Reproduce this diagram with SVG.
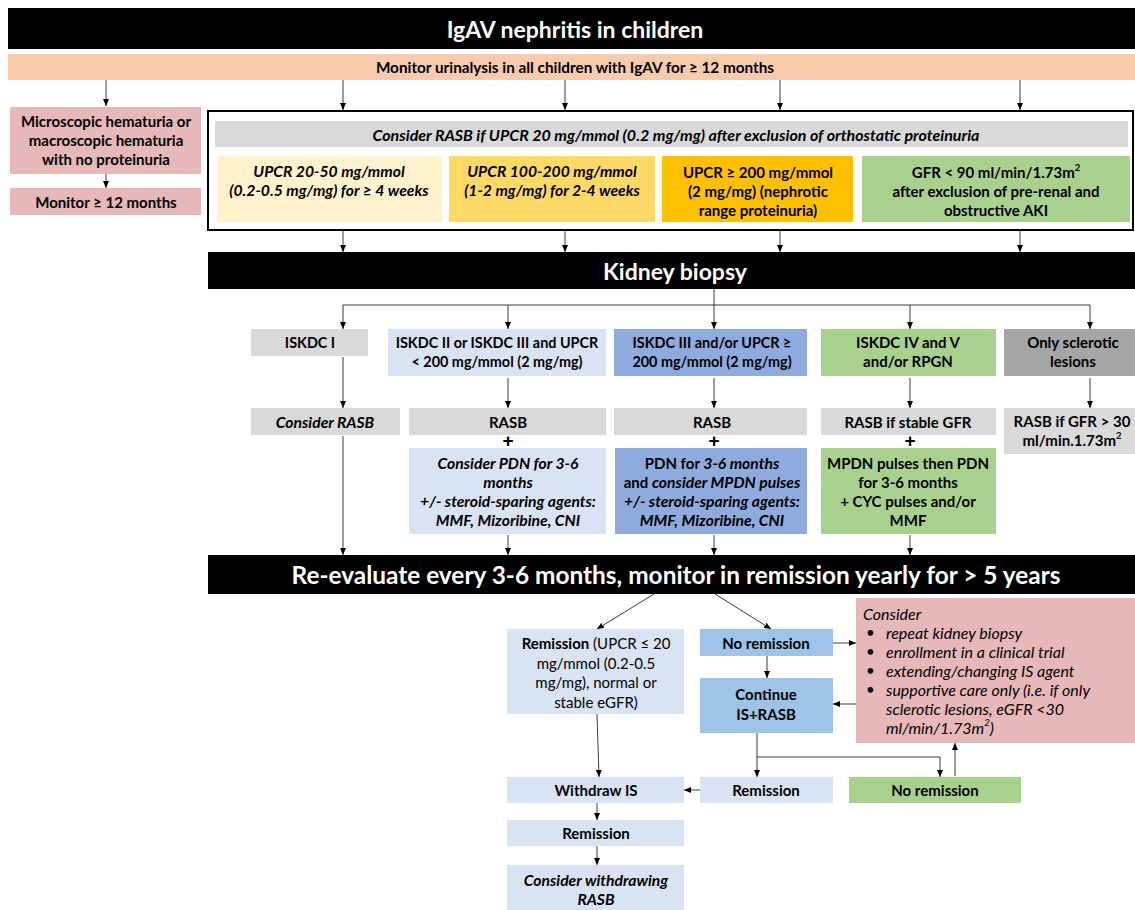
<svg xmlns="http://www.w3.org/2000/svg" width="1135" height="910" viewBox="0 0 1135 910">
<defs>
<marker id="ah" markerWidth="7" markerHeight="6" refX="7" refY="3" orient="auto" markerUnits="userSpaceOnUse">
<path d="M0,0 L7,3 L0,6 z" fill="#000"/>
</marker>
<style>
text{font-family:Lato,"Liberation Sans",Arial,sans-serif;font-size:15px;fill:#000;text-anchor:middle;dominant-baseline:central}
.b{font-weight:bold}
.i{font-style:italic;font-size:16px}
.bi{font-weight:bold;font-style:italic;font-size:15.7px}
.s{font-size:14.4px}
.plus{font-family:"Liberation Sans",Arial,sans-serif;font-weight:bold;font-size:19px}
.wt{fill:#fff;font-weight:bold}
.st{text-anchor:start}
.sup{font-size:9.5px}
.c{stroke:#3a3a3a;stroke-width:1;fill:none;marker-end:url(#ah)}
.l{stroke:#3a3a3a;stroke-width:1;fill:none}
</style>
</defs>
<rect width="1135" height="910" fill="#fff"/>

<g id="title">
<rect x="8" y="8" width="1127" height="41" fill="#000"/>
<text x="575" y="29" class="wt" style="font-size:23px">IgAV nephritis in children</text>
</g>
<g id="monitor-all">
<rect x="8" y="54" width="1127" height="26" fill="#F8CBAD"/>
<text x="575" y="67" class="b" style="font-size:15.3px">Monitor urinalysis in all children with IgAV for ≥ 12 months</text>
</g>
<g id="hematuria">
<rect x="10" y="107" width="191" height="67" fill="#E6B8B7"/>
<text x="106" y="121" class="b">Microscopic hematuria or</text>
<text x="106" y="140" class="b">macroscopic hematuria</text>
<text x="106" y="159" class="b">with no proteinuria</text>
</g>
<g id="monitor12">
<rect x="10" y="188" width="191" height="27" fill="#E6B8B7"/>
<text x="106" y="201.5" class="b">Monitor ≥ 12 months</text>
</g>
<g id="proteinuria-frame">
<rect x="208" y="111" width="925" height="119" fill="none" stroke="#000" stroke-width="2"/>
</g>
<g id="consider-rasb-upcr">
<rect x="215" y="121" width="913" height="26" fill="#D9D9D9"/>
<text x="676" y="134" class="bi" style="font-size:16px">Consider RASB if UPCR 20 mg/mmol (0.2 mg/mg) after exclusion of orthostatic proteinuria</text>
</g>
<g id="upcr20">
<rect x="217" y="156" width="225" height="66" fill="#FFF2CC"/>
<text x="329" y="171" class="bi">UPCR 20-50 mg/mmol</text>
<text x="329" y="190" class="bi">(0.2-0.5 mg/mg) for ≥ 4 weeks</text>
</g>
<g id="upcr100">
<rect x="449" y="156" width="206" height="66" fill="#FFD966"/>
<text x="552" y="171" class="bi">UPCR 100-200 mg/mmol</text>
<text x="552" y="190" class="bi">(1-2 mg/mg) for 2-4 weeks</text>
</g>
<g id="upcr200">
<rect x="662" y="156" width="191" height="66" fill="#FFC000"/>
<text x="758" y="172" class="b">UPCR ≥ 200 mg/mmol</text>
<text x="758" y="191" class="b">(2 mg/mg) (nephrotic</text>
<text x="758" y="210" class="b">range proteinuria)</text>
</g>
<g id="gfr90">
<rect x="862" y="156" width="268" height="66" fill="#A9D18E"/>
<text x="996" y="172" class="b">GFR &lt; 90 ml/min/1.73m<tspan dy="-5" class="sup">2</tspan></text>
<text x="996" y="191" class="b">after exclusion of pre-renal and</text>
<text x="996" y="210" class="b">obstructive AKI</text>
</g>
<g id="biopsy">
<rect x="208" y="252" width="927" height="37" fill="#000"/>
<text x="675" y="270.5" class="wt" style="font-size:23px">Kidney biopsy</text>
</g>
<g id="iskdc1">
<rect x="251" y="329" width="117" height="27" fill="#D9D9D9"/>
<text x="310" y="342.5" class="b s">ISKDC I</text>
</g>
<g id="iskdc2">
<rect x="388" y="329" width="218" height="47" fill="#DAE3F3"/>
<text x="497" y="342" class="b s">ISKDC II or ISKDC III and UPCR</text>
<text x="497" y="361" class="b s">&lt; 200 mg/mmol (2 mg/mg)</text>
</g>
<g id="iskdc3">
<rect x="614" y="329" width="193" height="47" fill="#8FAADC"/>
<text x="712" y="342" class="b s">ISKDC III and/or UPCR ≥</text>
<text x="712" y="361" class="b s">200 mg/mmol (2 mg/mg)</text>
</g>
<g id="iskdc4">
<rect x="821" y="329" width="175" height="47" fill="#A9D18E"/>
<text x="908" y="342" class="b">ISKDC IV and V</text>
<text x="908" y="361" class="b">and/or RPGN</text>
</g>
<g id="sclerotic">
<rect x="1004" y="329" width="131" height="47" fill="#A6A6A6"/>
<text x="1073" y="342" class="b">Only sclerotic</text>
<text x="1073" y="361" class="b">lesions</text>
</g>
<g id="consider-rasb">
<rect x="251" y="408" width="149" height="27" fill="#D9D9D9"/>
<text x="325" y="421.5" class="bi">Consider RASB</text>
</g>
<g id="rasb2">
<rect x="409" y="408" width="197" height="27" fill="#D9D9D9"/>
<text x="508" y="421.5" class="b">RASB</text>
<text x="508" y="440.5" class="plus">+</text>
<rect x="409" y="448" width="197" height="86" fill="#DAE3F3"/>
<text x="508" y="463" class="bi">Consider PDN for 3-6</text>
<text x="508" y="482" class="bi">months</text>
<text x="508" y="501" class="bi">+/- steroid-sparing agents:</text>
<text x="508" y="520" class="bi">MMF, Mizoribine, CNI</text>
</g>
<g id="rasb3">
<rect x="614" y="408" width="193" height="27" fill="#D9D9D9"/>
<text x="712" y="421.5" class="b">RASB</text>
<text x="714" y="440.5" class="plus">+</text>
<rect x="615" y="448" width="192" height="86" fill="#8FAADC"/>
<text x="712" y="463" class="b">PDN for <tspan class="bi">3-6 months</tspan></text>
<text x="712" y="482" class="b">and <tspan class="bi">consider MPDN pulses</tspan></text>
<text x="712" y="501" class="bi">+/- steroid-sparing agents:</text>
<text x="712" y="520" class="bi">MMF, Mizoribine, CNI</text>
</g>
<g id="rasb4">
<rect x="821" y="408" width="175" height="27" fill="#D9D9D9"/>
<text x="908" y="421.5" class="b">RASB if stable GFR</text>
<text x="910" y="440.5" class="plus">+</text>
<rect x="821" y="448" width="175" height="86" fill="#A9D18E"/>
<text x="908" y="463" class="b">MPDN pulses then PDN</text>
<text x="908" y="482" class="b">for 3-6 months</text>
<text x="908" y="501" class="b">+ CYC pulses and/or</text>
<text x="908" y="520" class="b">MMF</text>
</g>
<g id="rasb5">
<rect x="1004" y="408" width="131" height="46" fill="#D9D9D9"/>
<text x="1072" y="421" class="b">RASB if GFR &gt; 30</text>
<text x="1072" y="440" class="b">ml/min.1.73m<tspan dy="-5" class="sup">2</tspan></text>
</g>
<g id="reevaluate">
<rect x="208" y="555" width="927" height="39" fill="#000"/>
<text x="676" y="574" class="wt" style="font-size:24.4px">Re-evaluate every 3-6 months, monitor in remission yearly for &gt; 5 years</text>
</g>
<g id="remission1">
<rect x="507" y="629" width="177" height="85" fill="#DAE3F3"/>
<text x="596" y="643"><tspan class="b">Remission</tspan> (UPCR ≤ 20</text>
<text x="596" y="663">mg/mmol (0.2-0.5</text>
<text x="596" y="682">mg/mg), normal or</text>
<text x="596" y="702">stable eGFR)</text>
</g>
<g id="noremission1">
<rect x="700" y="629" width="133" height="27" fill="#9DC3E6"/>
<text x="766" y="642.5" class="b">No remission</text>
</g>
<g id="consider-box">
<rect x="856" y="598" width="279" height="145" fill="#E6B8B7"/>
<text x="863" y="613" class="i st">Consider</text>
<text x="866" y="632" class="st">•</text>
<text x="886" y="632" class="i st">repeat kidney biopsy</text>
<text x="866" y="651" class="st">•</text>
<text x="886" y="651" class="i st">enrollment in a clinical trial</text>
<text x="866" y="670" class="st">•</text>
<text x="886" y="670" class="i st">extending/changing IS agent</text>
<text x="866" y="689" class="st">•</text>
<text x="886" y="689" class="i st">supportive care only (i.e. if only</text>
<text x="886" y="708" class="i st">sclerotic lesions, eGFR &lt;30</text>
<text x="886" y="727" class="i st">ml/min/1.73m<tspan dy="-5" class="sup">2</tspan><tspan dy="5">)</tspan></text>
</g>
<g id="continue">
<rect x="700" y="678" width="133" height="55" fill="#9DC3E6"/>
<text x="766" y="694" class="b">Continue</text>
<text x="766" y="714" class="b">IS+RASB</text>
</g>
<g id="remission2">
<rect x="700" y="777" width="133" height="26" fill="#DAE3F3"/>
<text x="766" y="790" class="b">Remission</text>
</g>
<g id="noremission2">
<rect x="849" y="777" width="172" height="26" fill="#A9D18E"/>
<text x="935" y="790" class="b">No remission</text>
</g>
<g id="withdraw-is">
<rect x="507" y="777" width="177" height="26" fill="#DAE3F3"/>
<text x="596" y="790" class="b">Withdraw IS</text>
</g>
<g id="remission3">
<rect x="507" y="820" width="177" height="26" fill="#DAE3F3"/>
<text x="596" y="833" class="b">Remission</text>
</g>
<g id="withdraw-rasb">
<rect x="507" y="865" width="177" height="45" fill="#DAE3F3"/>
<text x="596" y="880" class="bi">Consider withdrawing</text>
<text x="596" y="899" class="bi">RASB</text>
</g>

<g id="connectors">
<path class="c" d="M106 80 V106"/>
<path class="c" d="M343 80 V110"/>
<path class="c" d="M565 80 V110"/>
<path class="c" d="M780 80 V110"/>
<path class="c" d="M1020 80 V110"/>
<path class="c" d="M106 174 V188"/>
<path class="c" d="M343 231 V252"/>
<path class="c" d="M565 231 V252"/>
<path class="c" d="M780 231 V252"/>
<path class="c" d="M1020 231 V252"/>
<path class="l" d="M714 289 V305 M343 305 H1090"/>
<path class="c" d="M343 305 V329"/>
<path class="c" d="M508 305 V329"/>
<path class="c" d="M714 305 V329"/>
<path class="c" d="M910 305 V329"/>
<path class="c" d="M1090 305 V329"/>
<path class="c" d="M343 357 V408"/>
<path class="c" d="M508 378 V408"/>
<path class="c" d="M714 378 V408"/>
<path class="c" d="M910 378 V408"/>
<path class="c" d="M1090 378 V408"/>
<path class="c" d="M343 436 V555"/>
<path class="c" d="M508 535 V555"/>
<path class="c" d="M714 535 V555"/>
<path class="c" d="M910 535 V555"/>
<path class="c" d="M654 594 L597 629"/>
<path class="c" d="M715 594 L771 629"/>
<path class="c" d="M833 643 H856"/>
<path class="c" d="M767 656 V678"/>
<path class="c" d="M856 704 H833"/>
<path class="c" d="M757 733 V777"/>
<path class="c" d="M757 757 H940 V777"/>
<path class="c" d="M955 776 V743"/>
<path class="c" d="M700 790 H684"/>
<path class="c" d="M597 714 L599 777"/>
<path class="c" d="M597 803 V820"/>
<path class="c" d="M597 846 V865"/>
</g>
</svg>
